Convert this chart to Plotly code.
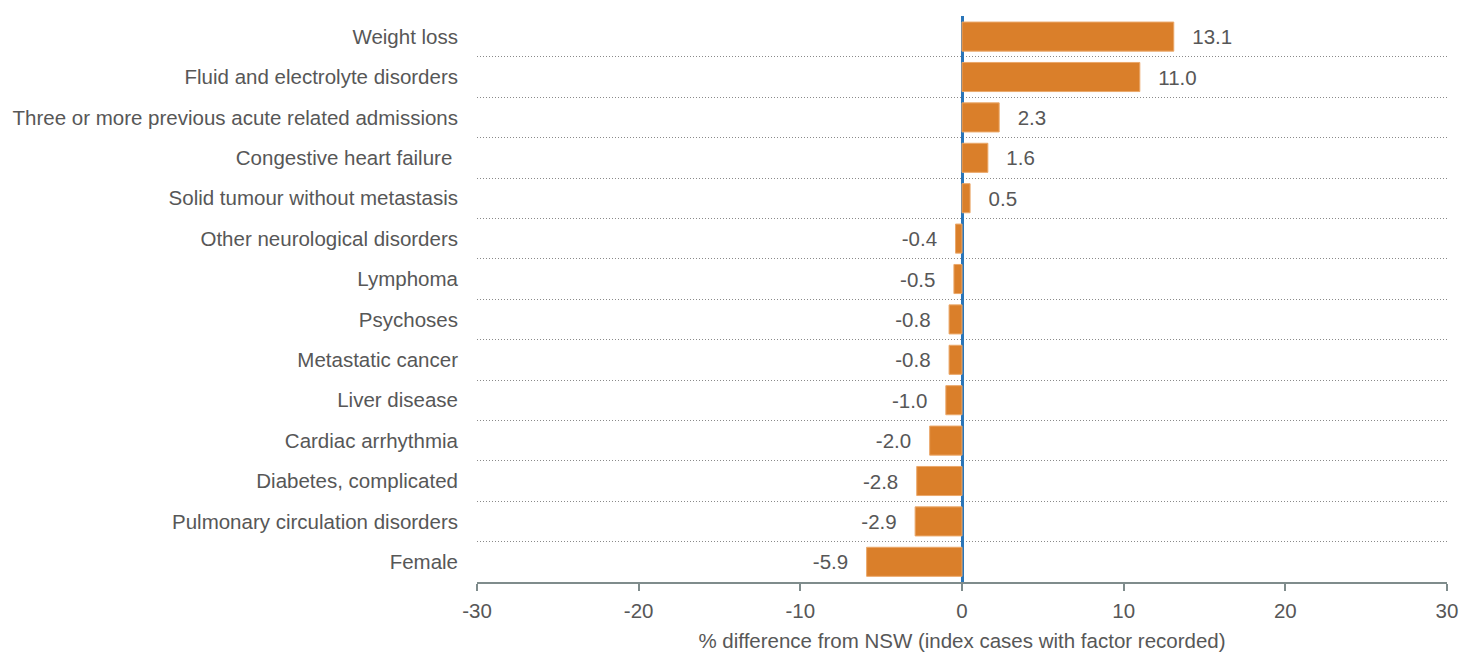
import plotly.graph_objects as go

categories = [
    "Weight loss",
    "Fluid and electrolyte disorders",
    "Three or more previous acute related admissions",
    "Congestive heart failure ",
    "Solid tumour without metastasis",
    "Other neurological disorders",
    "Lymphoma",
    "Psychoses",
    "Metastatic cancer",
    "Liver disease",
    "Cardiac arrhythmia",
    "Diabetes, complicated",
    "Pulmonary circulation disorders",
    "Female",
]
values = [13.1, 11.0, 2.3, 1.6, 0.5, -0.4, -0.5, -0.8, -0.8, -1.0, -2.0, -2.8, -2.9, -5.9]
x_ticks = [-30, -20, -10, 0, 10, 20, 30]

positions = list(range(len(categories)))
boundaries = [p - 0.5 for p in positions]

FONT = "Liberation Sans"
TXT = "#575757"
SZ = 20.5
PAD = "\u00a0\u00a0\u2009"

labels = [(PAD + f"{v:.1f}") if v >= 0 else (f"{v:.1f}" + PAD) for v in values]

fig = go.Figure()
fig.add_trace(go.Bar(
    y=positions,
    x=values,
    orientation="h",
    width=0.72,
    marker=dict(color="#DA7F2A", line=dict(color="#EBA86A", width=1)),
    text=labels,
    textposition="outside",
    textfont=dict(family=FONT, size=SZ, color=TXT),
    cliponaxis=False,
    hoverinfo="skip",
))

fig.update_layout(
    width=1471, height=660,
    margin=dict(l=477, r=24, t=16, b=78),
    paper_bgcolor="white",
    plot_bgcolor="white",
    showlegend=False,
    font=dict(family=FONT, size=SZ, color=TXT),
)

fig.update_xaxes(
    range=[-30, 30],
    tickvals=x_ticks,
    ticktext=[str(t) for t in x_ticks],
    showgrid=False,
    zeroline=True,
    zerolinecolor="#2A75B8",
    zerolinewidth=3,
    showline=True,
    linecolor="#7F8C8C",
    linewidth=1.5,
    ticks="outside",
    ticklen=7,
    tickcolor="#7F8C8C",
    tickwidth=1.5,
    ticklabelstandoff=3,
    automargin=False,
    tickfont=dict(family=FONT, size=SZ, color=TXT),
    title=dict(text="% difference from NSW (index cases with factor recorded)",
               font=dict(family=FONT, size=SZ, color=TXT), standoff=12),
)

fig.update_yaxes(
    range=[13.5, -0.51],
    tickvals=positions,
    ticktext=categories,
    showgrid=False,
    zeroline=False,
    showline=False,
    ticks="",
    ticklabelstandoff=18,
    automargin=False,
    tickfont=dict(family=FONT, size=SZ, color=TXT),
    minor=dict(
        tickvals=boundaries,
        showgrid=True,
        gridcolor="#8A8A8A",
        griddash="1px,2px",
        gridwidth=1,
        ticks="",
    ),
)

fig.write_html(
    "out.html",
    config={"displayModeBar": False},
    post_script="document.body.style.margin='0';document.body.style.padding='0';",
)
